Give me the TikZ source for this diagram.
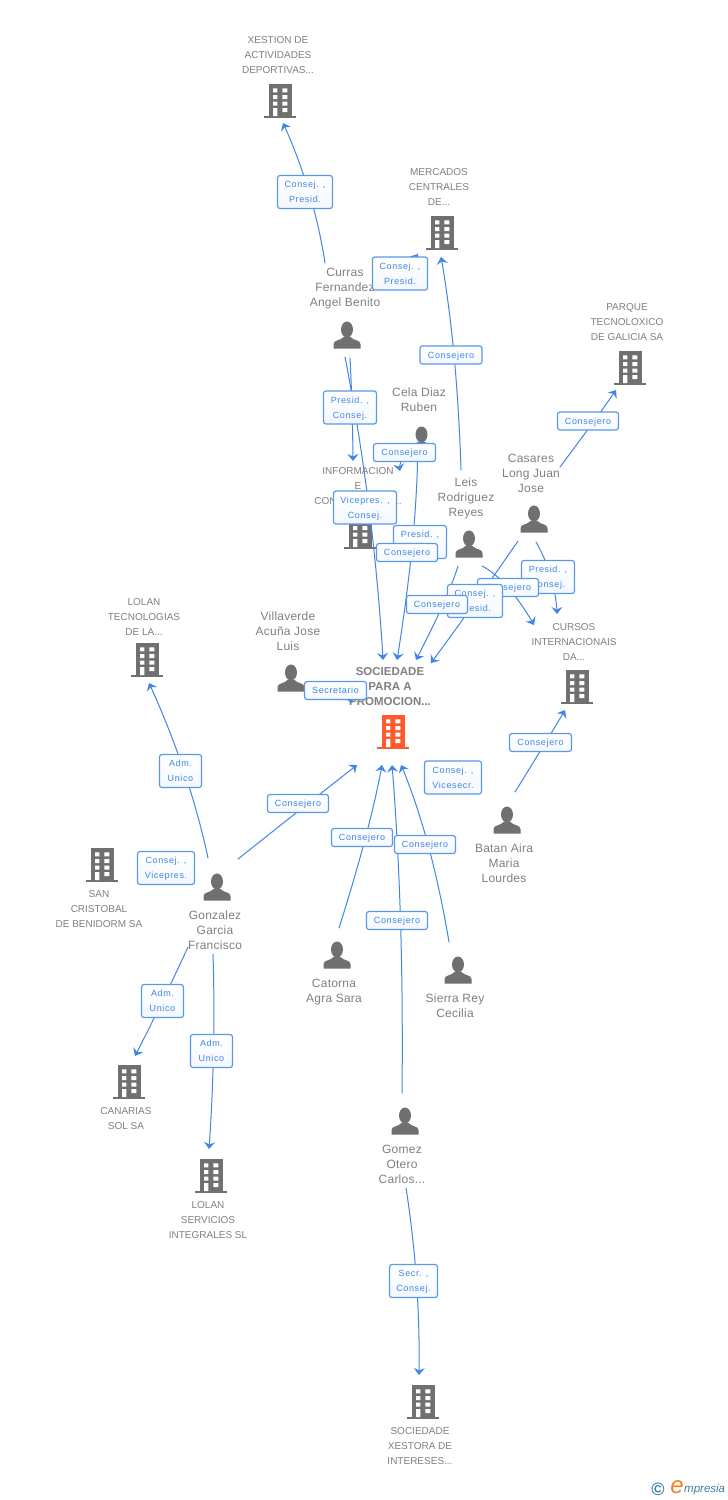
\documentclass[tikz,border=0pt]{standalone}
\usepackage{fontspec}
\setmainfont{Liberation Sans}
\usetikzlibrary{arrows.meta}
\definecolor{icongray}{HTML}{707070}
\definecolor{txtgray}{HTML}{808080}
\definecolor{linkblue}{HTML}{3F86E6}
\definecolor{boxblue}{HTML}{5C98E8}
\definecolor{mainorange}{HTML}{FF5A2C}
\definecolor{logoteal}{HTML}{3C7F9C}
\definecolor{logoorange}{HTML}{F58220}
\pgfdeclarelayer{ents}
\pgfdeclarelayer{links}
\pgfsetlayers{ents,links,main}
\newfontfamily\spacedA[LetterSpace=2]{Liberation Sans}
\newfontfamily\spacedB[LetterSpace=7]{Liberation Sans}
\tikzset{
  x=1pt,y=-1pt,
  iconbox/.style={inner sep=0pt,minimum size=2pt},
  nametext/.style={align=center,text=txtgray,font=\fontsize{12}{15}\selectfont\spacedA,inner sep=0pt},
  orgtext/.style={align=center,text=txtgray,font=\fontsize{10}{15}\selectfont,inner sep=0pt},
  maintext/.style={align=center,text=txtgray,font=\fontsize{11.5}{15}\selectfont\bfseries,inner sep=0pt,yshift=-1pt},
  linklabel/.style={draw=boxblue,line width=1.2pt,rounded corners=2.5pt,top color=white,bottom color=white!94!linkblue,
    text=linkblue,align=center,font=\fontsize{9}{15}\selectfont\spacedB,inner sep=0pt,text depth=0pt},
  link/.style={draw=linkblue,line width=1pt,line cap=round},
  linkarrow/.style={link,-{Stealth[length=7pt,width=11pt,inset=2.5pt]}},
}
\newcommand{\Bld}[5][icongray]{%
  \node[iconbox] (#2) at (#3,#4) {};
  \begin{scope}[shift={(#3,#4)}]
    \fill[#1] (-11,-17) rectangle (12,15);
    \fill[#1] (-16,14.7) rectangle (16,16.6);
    \fill[white] (-7,-12.7) rectangle (-2.7,-8.7) (2.3,-12.7) rectangle (7.3,-8.7)
      (-7,-6) rectangle (-2.7,-2) (2.3,-6) rectangle (7.3,-2)
      (-7,0.7) rectangle (-2.7,4.7) (2.3,0.7) rectangle (7.3,4.7)
      (-7,7) rectangle (-2.7,15) (2.3,7) rectangle (7.3,11);
  \end{scope}
  #5}
\newcommand{\Per}[3]{%
  \node[iconbox] (#1) at (#2,#3) {};
  \begin{scope}[shift={(#2,#3)}]
    \fill[icongray] (0,-6.5) ellipse (6 and 8);
    \fill[icongray] (-13.5,12.7) -- (-13.5,8) .. controls (-13.5,4) and (-6,4.5) .. (-3.5,1) -- (3.5,1)
      .. controls (6,4.5) and (13.5,4) .. (13.5,8) -- (13.5,12.7) -- cycle;
  \end{scope}}
% from node + offset, through label + offset, to node + offset
\newcommand{\Lnk}[6]{%
  \draw[linkarrow] plot[smooth,tension=1] coordinates {([shift={(#2)}]#1.center) ([shift={(#4)}]#3.center) ([shift={(#6)}]#5.center)};}
\begin{document}
\begin{tikzpicture}
\useasboundingbox (0,0) rectangle (728,1500);

\begin{pgfonlayer}{ents}
\fill[white] (0,0) rectangle (728,1500);
\Bld{xest}{280}{101}{\node[orgtext] (txest) at (278,54.7) {XESTION DE\\ACTIVIDADES\\DEPORTIVAS...};}
\Bld{merc}{442}{233}{\node[orgtext] (tmerc) at (439,186.7) {MERCADOS\\CENTRALES\\DE...};}
\Bld{parq}{630}{368}{\node[orgtext] (tparq) at (627,321.7) {PARQUE\\TECNOLOXICO\\DE GALICIA SA};}
\Bld{info}{360}{532}{\node[orgtext] (tinfo) at (358,486) {INFORMACION\\E\\CONOCIMIENTO...};}
\Bld{curs}{577}{687}{\node[orgtext] (tcurs) at (574,641.7) {CURSOS\\INTERNACIONAIS\\DA...};}
\Bld{loln}{147}{660}{\node[orgtext] (tloln) at (144,616.5) {LOLAN\\TECNOLOGIAS\\DE LA...};}
\Bld{sanc}{102}{865}{\node[orgtext] (tsanc) at (99,909) {SAN\\CRISTOBAL\\DE BENIDORM SA};}
\Bld{cana}{129}{1082}{\node[orgtext] (tcana) at (126,1118.5) {CANARIAS\\SOL SA};}
\Bld{lser}{211}{1176}{\node[orgtext] (tlser) at (208,1220) {LOLAN\\SERVICIOS\\INTEGRALES SL};}
\Bld{socx}{423}{1402}{\node[orgtext] (tsocx) at (420,1446) {SOCIEDADE\\XESTORA DE\\INTERESES...};}
\Bld[mainorange]{soc}{393}{732}{\node[maintext] (tsoc) at (390,686) {SOCIEDADE\\PARA A\\PROMOCION...};}
\Per{curr}{347}{336}
\node[nametext] (tcurr) at (345,289) {Curras\\Fernandez\\Angel Benito};
\Per{cela}{421.5}{441}
\node[nametext] (tcela) at (419,399.5) {Cela Diaz\\Ruben};
\Per{casa}{534}{520}
\node[nametext] (tcasa) at (531,473) {Casares\\Long Juan\\Jose};
\Per{leis}{469}{545}
\node[nametext] (tleis) at (466,498) {Leis\\Rodriguez\\Reyes};
\Per{vill}{291}{679}
\node[nametext] (tvill) at (288,631) {Villaverde\\Acuña Jose\\Luis};
\Per{gonz}{217}{888}
\node[nametext] (tgonz) at (215,930) {Gonzalez\\Garcia\\Francisco};
\Per{cato}{337}{956}
\node[nametext] (tcato) at (334,992.5) {Catorna\\Agra Sara};
\Per{sier}{458}{971}
\node[nametext] (tsier) at (455,1005.5) {Sierra Rey\\Cecilia};
\Per{bata}{507}{821}
\node[nametext] (tbata) at (504,863) {Batan Aira\\Maria\\Lourdes};
\Per{gome}{405}{1122}
\node[nametext] (tgome) at (402,1164) {Gomez\\Otero\\Carlos...};
\end{pgfonlayer}

% link labels
\node[linklabel,minimum width=55pt,minimum height=33pt] (l1) at (305,192) {Consej. ,\\Presid.};
\node[linklabel,minimum width=55pt,minimum height=33pt] (l2) at (400,273.5) {Consej. ,\\Presid.};
\node[linklabel,minimum width=62pt,minimum height=18pt] (l3) at (451,355) {Consejero};
\node[linklabel,minimum width=61pt,minimum height=18pt] (l4) at (588,421) {Consejero};
\node[linklabel,minimum width=53pt,minimum height=33pt] (l5) at (350,407.5) {Presid. ,\\Consej.};
\node[linklabel,minimum width=62pt,minimum height=18pt] (l6) at (404.5,452.5) {Consejero};
\node[linklabel,minimum width=53pt,minimum height=33pt] (l8) at (420,542) {Presid. ,\\Consej.};
\node[linklabel,minimum width=63pt,minimum height=33pt] (l7) at (365,507.5) {Vicepres. ,\\Consej.};
\node[linklabel,minimum width=61pt,minimum height=18pt] (l9) at (407,552.5) {Consejero};
\node[linklabel,minimum width=53pt,minimum height=33pt] (l10) at (548,577) {Presid. ,\\Consej.};
\node[linklabel,minimum width=61pt,minimum height=18pt] (l11) at (508,587.5) {Consejero};
\node[linklabel,minimum width=55pt,minimum height=33pt] (l12) at (475,601) {Consej. ,\\Presid.};
\node[linklabel,minimum width=61pt,minimum height=18pt] (l13) at (437,604.5) {Consejero};
\node[linklabel,minimum width=62pt,minimum height=18pt] (l14) at (335.5,690.5) {Secretario};
\node[linklabel,minimum width=62pt,minimum height=18pt] (l15) at (540.5,742.5) {Consejero};
\node[linklabel,minimum width=57pt,minimum height=33pt] (l16) at (453,777.5) {Consej. ,\\Vicesecr.};
\node[linklabel,minimum width=42pt,minimum height=33pt] (l17) at (180.5,771) {Adm.\\Unico};
\node[linklabel,minimum width=61pt,minimum height=18pt] (l18) at (298,803.5) {Consejero};
\node[linklabel,minimum width=61pt,minimum height=18pt] (l19) at (362,837.5) {Consejero};
\node[linklabel,minimum width=61pt,minimum height=18pt] (l20) at (425,844.5) {Consejero};
\node[linklabel,minimum width=57pt,minimum height=33pt] (l21) at (166,868) {Consej. ,\\Vicepres.};
\node[linklabel,minimum width=61pt,minimum height=18pt] (l22) at (397,920.5) {Consejero};
\node[linklabel,minimum width=42pt,minimum height=33pt] (l23) at (162.5,1001) {Adm.\\Unico};
\node[linklabel,minimum width=42pt,minimum height=33pt] (l24) at (211.5,1051) {Adm.\\Unico};
\node[linklabel,minimum width=48pt,minimum height=33pt] (l25) at (413.5,1281) {Secr. ,\\Consej.};

\begin{pgfonlayer}{links}
\Lnk{curr}{-22,-73}{l1}{4,0}{xest}{3,22}
\Lnk{curr}{30,-46}{l2}{0,0}{merc}{-24,21}
\Lnk{leis}{-8,-75}{l3}{3,0}{merc}{-1,24}
\Lnk{casa}{26,-53}{l4}{6,0}{parq}{-14,22}
\Lnk{curr}{3,22}{l5}{2,0}{info}{-7,-71}
\Lnk{curr}{-2,21}{l7}{4,0}{soc}{-10,-72}
\Lnk{cela}{0,0}{l6}{0,2}{info}{40,-61}
\Lnk{cela}{-4,20}{l9}{4.5,0}{soc}{4,-72}
\Lnk{leis}{-11,21}{l13}{6,0}{soc}{23,-72}
\Lnk{casa}{-16,21}{l12}{1,0}{soc}{38,-69}
\Lnk{casa}{2,22}{l10}{3,0}{curs}{-20,-73}
\Lnk{leis}{13,21}{l11}{0,0}{curs}{-43,-62}
\Lnk{bata}{8,-29}{l15}{5,0}{curs}{-12,23}
\Lnk{vill}{14,12}{l14}{0,0}{soc}{-41,-29}
\Lnk{gonz}{21,-29}{l18}{10,0}{soc}{-36,33}
\Lnk{gonz}{-9,-30}{l17}{3.5,0}{loln}{2,23}
\Lnk{cato}{2,-28}{l19}{3.5,0}{soc}{-11,33}
\Lnk{sier}{-9,-29}{l20}{3,0}{soc}{8,33}
\Lnk{gome}{-3,-29}{l22}{3.5,0}{soc}{-1,33}
\Lnk{gome}{1,66}{l25}{3,0}{socx}{-4,-27}
\Lnk{gonz}{-29,59}{l23}{0,0}{cana}{6,-26}
\Lnk{gonz}{-4,66}{l24}{2,0}{lser}{-2,-27}
\end{pgfonlayer}

% logo
\node[inner sep=0pt,text=logoteal,font=\fontsize{18}{18}\selectfont\bfseries] (logoc) at (658,1489) {©};
\node[inner sep=0pt,text=logoorange,font=\fontsize{24}{24}\selectfont\itshape] (logoe) at (677,1487) {e};
\node[inner sep=0pt,text=logoteal,font=\fontsize{11.5}{12}\selectfont\itshape,anchor=west] (logot) at (684,1490) {mpresia};
\end{tikzpicture}
\end{document}
